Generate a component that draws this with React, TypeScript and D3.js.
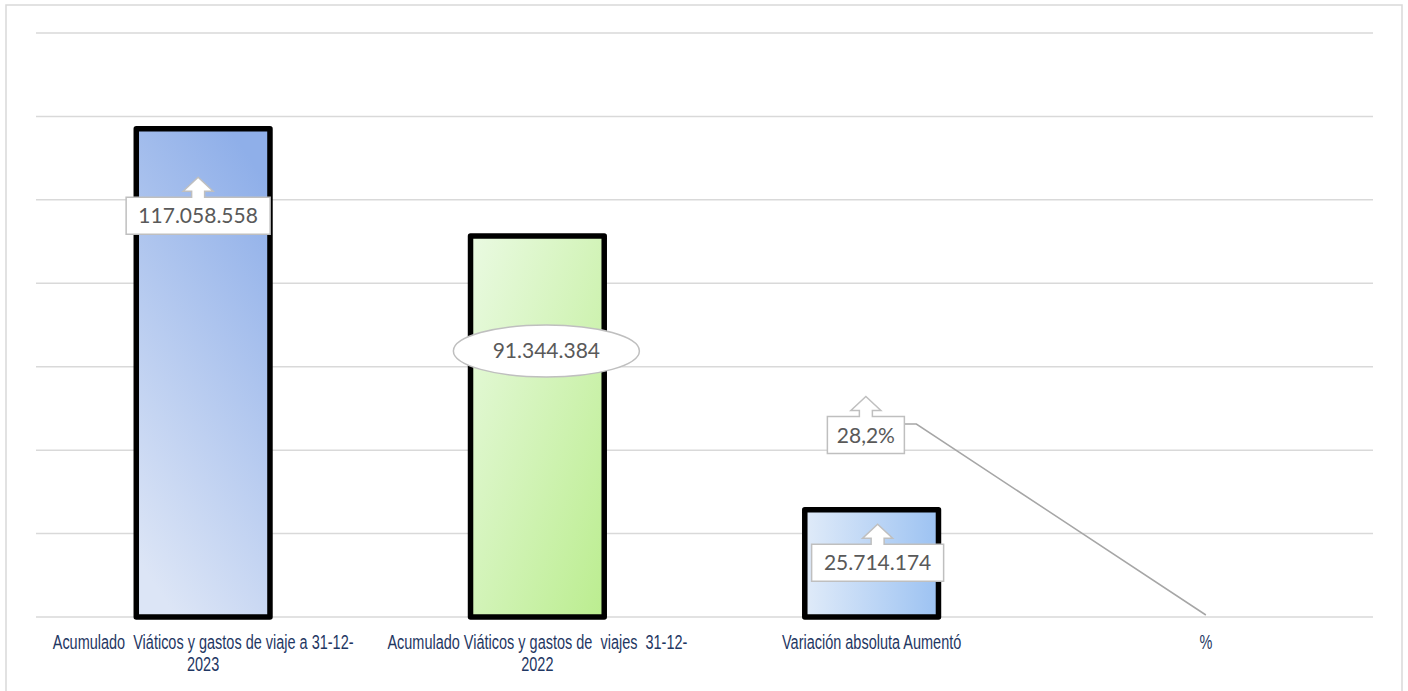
import React from 'react';
import * as d3 from 'd3';

// chart values
const categories = ['acum2023', 'acum2022', 'variacion', 'pct'];
const categoryLines = [
  ['Acumulado  Viáticos y gastos de viaje a 31-12-', '2023'],
  ['Acumulado Viáticos y gastos de  viajes  31-12-', '2022'],
  ['Variación absoluta Aumentó'],
  ['%'],
];
const values = [117058558, 91344384, 25714174, 0.282];
const labelTexts = ['117.058.558', '91.344.384', '25.714.174', '28,2%'];
const yTicks = [0, 20e6, 40e6, 60e6, 80e6, 100e6, 120e6, 140e6];

// label placement (Excel moved these by hand), relative to bar center / top
const labelShape = ['arrow', 'ellipse', 'arrow', 'arrow'];
const labelDx = [-5, 9, 6, -340];
const labelDy = [87, 115, 53, -182];
const labelW = [144, 186, 132, 77];
const barFills = ['url(#g1)', 'url(#g2)', 'url(#g3)', 'url(#g3)'];

const W = 1408;
const H = 691;
const margin = { left: 36, right: 35, top: 33, bottom: 74 };

const x = d3
  .scaleBand<string>()
  .domain(categories)
  .range([margin.left, W - margin.right])
  .paddingInner(0.6)
  .paddingOuter(0.3);

const y = d3
  .scaleLinear()
  .domain([0, 140e6])
  .range([H - margin.bottom, margin.top]);

// box with up arrow on top, like Excel's "up arrow callout"
function arrowCallout(cx: number, cy: number, w: number, h: number) {
  const x0 = cx - w / 2;
  const x1 = cx + w / 2;
  const y0 = cy - h / 2;
  const y1 = cy + h / 2;
  const shaft = 6.5;
  const head = 15;
  const tip = y0 - 20;
  const headBase = tip + 14;
  const p = d3.path();
  p.moveTo(x0, y0);
  p.lineTo(cx - shaft, y0);
  p.lineTo(cx - shaft, headBase);
  p.lineTo(cx - head, headBase);
  p.lineTo(cx, tip);
  p.lineTo(cx + head, headBase);
  p.lineTo(cx + shaft, headBase);
  p.lineTo(cx + shaft, y0);
  p.lineTo(x1, y0);
  p.lineTo(x1, y1);
  p.lineTo(x0, y1);
  p.closePath();
  return p.toString();
}

const App: React.FC = () => {
  const base = y(0);
  const bw = x.bandwidth();

  return (
    <svg
      width={W}
      height={H}
      style={{ position: 'absolute', left: 0, top: 0, background: '#fff' }}
    >
      <defs>
        <linearGradient id="g1" x1="0.3" y1="1" x2="0.7" y2="0">
          <stop offset="0" stopColor="#dce5f6" />
          <stop offset="1" stopColor="#8fafe9" />
        </linearGradient>
        <linearGradient id="g2" x1="0" y1="0" x2="1" y2="1">
          <stop offset="0" stopColor="#eafae2" />
          <stop offset="1" stopColor="#bbed8f" />
        </linearGradient>
        <linearGradient id="g3" x1="0" y1="0" x2="1" y2="0">
          <stop offset="0" stopColor="#e0ebf9" />
          <stop offset="1" stopColor="#9cc2f2" />
        </linearGradient>
      </defs>

      {/* chart area border */}
      <rect x={6} y={5} width={1396} height={690} fill="none" stroke="#d9d9d9" strokeWidth={1.5} />

      {/* gridlines */}
      {yTicks.map((t) => (
        <line
          key={t}
          x1={margin.left}
          x2={W - margin.right}
          y1={y(t)}
          y2={y(t)}
          stroke="#d9d9d9"
          strokeWidth={1.5}
        />
      ))}

      {/* bars */}
      {categories.map((c, i) => {
        const top = y(values[i]);
        const h = base - top;
        return (
          <rect
            key={c}
            x={x(c)}
            y={top}
            width={bw}
            height={h}
            fill={barFills[i]}
            stroke={h < 1 ? 'none' : '#000'}
            strokeWidth={5.5}
            strokeLinejoin="round"
          />
        );
      })}

      {/* category labels, squeezed to look like the narrow original font */}
      {categories.map((c, i) => {
        const cx = (x(c) as number) + bw / 2;
        return (
          <g key={c} transform={`translate(${cx},0) scale(0.69,1)`}>
            {categoryLines[i].map((ln, j) => (
              <text
                key={j}
                x={0}
                y={649 + j * 22}
                textAnchor="middle"
                fontFamily="'Liberation Sans', sans-serif"
                fontSize={21}
                fill="#1f3763"
                style={{ whiteSpace: 'pre' }}
              >
                {ln}
              </text>
            ))}
          </g>
        );
      })}

      {/* data labels */}
      {categories.map((c, i) => {
        const barCx = (x(c) as number) + bw / 2;
        const top = y(values[i]);
        const cx = barCx + labelDx[i];
        const cy = top + labelDy[i];
        const w = labelW[i];
        const h = labelShape[i] === 'ellipse' ? 52 : 37;
        return (
          <g key={c}>
            {c === 'pct' && (
              <polyline
                points={`${cx + w / 2},${cy - 11} ${cx + w / 2 + 12},${cy - 11} ${barCx},${top - 2}`}
                fill="none"
                stroke="#a6a6a6"
                strokeWidth={1.5}
              />
            )}
            {labelShape[i] === 'ellipse' ? (
              <ellipse cx={cx} cy={cy} rx={w / 2} ry={h / 2} fill="#fff" stroke="#bfbfbf" strokeWidth={1.5} />
            ) : (
              <path d={arrowCallout(cx, cy, w, h)} fill="#fff" stroke="#bfbfbf" strokeWidth={1.5} />
            )}
            <text
              x={cx}
              y={cy + 7.5}
              textAnchor="middle"
              fontFamily="Lato, 'Open Sans', sans-serif"
              fontSize={21}
              fill="#595959"
            >
              {labelTexts[i]}
            </text>
          </g>
        );
      })}
    </svg>
  );
};

export default App;
